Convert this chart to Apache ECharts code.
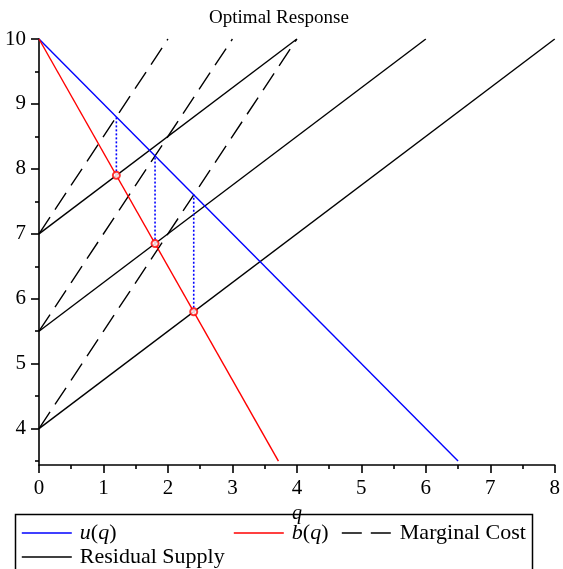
<!DOCTYPE html>
<html>
<head>
<meta charset="utf-8">
<script src="https://cdn.jsdelivr.net/npm/echarts@6/dist/echarts.min.js"></script>
<style>html,body{margin:0;padding:0;background:#fff}#c{width:563px;height:569px}</style>
</head>
<body>
<div id="c"></div>
<script>
// ---- data ----
const titleText = 'Optimal Response';
const xTicks = [0, 1, 2, 3, 4, 5, 6, 7, 8];
const yTicks = [4, 5, 6, 7, 8, 9, 10];
const yMinorTicks = [3.5, 4.5, 5.5, 6.5, 7.5, 8.5, 9.5];
const uLine = [[0, 10], [6.5, 3.5]];            // u(q)
const bLine = [[0, 10], [3.714, 3.5]];          // b(q)
const mcLine1 = [[0, 7], [2, 10]];              // marginal cost
const mcLine2 = [[0, 5.5], [3, 10]];
const mcLine3 = [[0, 4], [4, 10]];
const rsLine1 = [[0, 7], [4, 10]];              // residual supply
const rsLine2 = [[0, 5.5], [6, 10]];
const rsLine3 = [[0, 4], [8, 10]];
const optQ = [1.2, 1.8, 2.4];                   // optimal responses
const optB = [7.9, 6.85, 5.8];
const optU = [8.8, 8.2, 7.6];

const FONT = 'Liberation Serif';
const chart = echarts.init(document.getElementById('c'), null, {renderer: 'canvas'});

const lw = 1.4;
const DASH = [20, 9];
const AX = {color: '#000', width: 1.6};
const series = [];
series.push({name: 'u(q)', type: 'line', data: uLine, symbol: 'none', lineStyle: {color: '#0000ff', width: lw}, itemStyle: {color: '#0000ff'}, z: 3});
series.push({name: 'b(q)', type: 'line', data: bLine, symbol: 'none', lineStyle: {color: '#ff0000', width: lw}, itemStyle: {color: '#ff0000'}, z: 3});
[mcLine1, mcLine2, mcLine3].forEach(d => series.push({name: 'Marginal Cost', type: 'line', data: d, symbol: 'none', lineStyle: {color: '#000', width: lw, type: DASH}, itemStyle: {color: '#000'}, z: 2}));
[rsLine1, rsLine2, rsLine3].forEach(d => series.push({name: 'Residual Supply', type: 'line', data: d, symbol: 'none', lineStyle: {color: '#000', width: lw}, itemStyle: {color: '#000'}, z: 2}));
optQ.forEach((q, i) => series.push({name: 'opt' + i, type: 'line', data: [[q, optB[i]], [q, optU[i]]], symbol: 'none', lineStyle: {color: '#0000ff', width: 1.6, type: [2, 2]}, z: 2}));
series.push({name: 'points', type: 'scatter', data: optQ.map((q, i) => [q, optB[i]]), symbol: 'circle', symbolSize: 7, itemStyle: {color: '#ffffff', borderColor: '#ff0000', borderWidth: 2}, z: 5});

const rich = {i: {fontFamily: FONT, fontStyle: 'italic', fontSize: 22, color: '#000'}, n: {fontFamily: FONT, fontSize: 22, color: '#000'}};
function fmt(name) {
  if (name === 'u(q)') return '{i|u}{n|(}{i|q}{n|)}';
  if (name === 'b(q)') return '{i|b}{n|(}{i|q}{n|)}';
  return '{n|' + name + '}';
}
function leg(name, left, top, dashed) {
  return {data: [name], left: left, top: top, padding: 0, itemWidth: 50, itemHeight: 20, selectedMode: false,
    icon: 'inherit',
    itemStyle: {opacity: 0},
    lineStyle: {width: 1.6, type: dashed ? DASH : 'solid'},
    formatter: fmt, textStyle: {fontFamily: FONT, fontSize: 22, color: '#000', rich: rich, padding: [0, 0, 0, 3]}};
}

chart.setOption({
  animation: false,
  backgroundColor: '#fff',
  title: {text: titleText, left: 274, top: 4, textAlign: 'center', textStyle: {fontFamily: FONT, fontSize: 19, fontWeight: 'normal', color: '#000'}},
  grid: {left: 39, right: 6, top: 39, bottom: 104, containLabel: false},
  xAxis: {type: 'value', min: 0, max: 8, interval: 1,
    name: 'q', nameLocation: 'middle', nameGap: 28,
    nameTextStyle: {fontFamily: FONT, fontStyle: 'italic', fontSize: 20, color: '#000'},
    axisLine: {onZero: false, lineStyle: AX},
    axisTick: {show: true, length: 8, lineStyle: AX},
    minorTick: {show: true, splitNumber: 2, length: 4, lineStyle: AX},
    axisLabel: {fontFamily: FONT, fontSize: 21, color: '#000', margin: 13, customValues: xTicks},
    splitLine: {show: false}},
  yAxis: [{type: 'value', min: 3.44, max: 10,
    axisLine: {show: true, onZero: false, lineStyle: AX},
    axisTick: {show: true, length: 8, customValues: yTicks, lineStyle: AX},
    axisLabel: {fontFamily: FONT, fontSize: 21, color: '#000', margin: 13, customValues: yTicks},
    splitLine: {show: false}},
   {type: 'value', min: 3.44, max: 10, position: 'left',
    axisLine: {show: false, onZero: false},
    axisTick: {show: true, length: 4, customValues: yMinorTicks, lineStyle: AX},
    axisLabel: {show: false, customValues: yMinorTicks},
    splitLine: {show: false}}],
  legend: [leg('u(q)', 21, 522), leg('b(q)', 233, 522), leg('Marginal Cost', 341, 522, true), leg('Residual Supply', 21, 546)],
  graphic: [{type: 'rect', shape: {x: 15.5, y: 514.5, width: 517, height: 70}, style: {fill: 'none', stroke: '#000', lineWidth: 1.5}, silent: true}],
  series: series
});
</script>
</body>
</html>
